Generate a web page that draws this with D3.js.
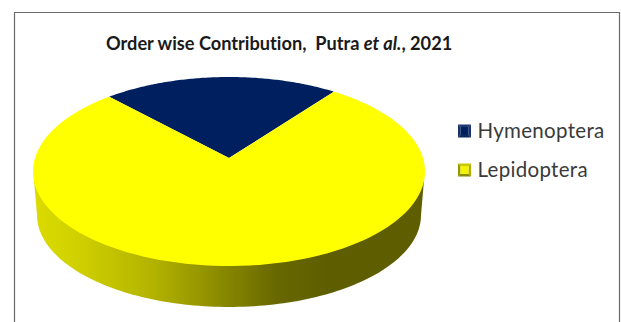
<!DOCTYPE html>
<html>
<head>
<meta charset="utf-8">
<script src="https://cdn.jsdelivr.net/npm/d3@7"></script>
<style>
  html, body { margin: 0; padding: 0; background: #fff; }
  svg { display: block; }
  text { font-family: Lato, "Open Sans", sans-serif; font-variant-ligatures: none; }
</style>
</head>
<body>
<svg id="chart" width="621" height="322"></svg>
<script>
const categories = ["Hymenoptera", "Lepidoptera"];
const values = [2, 7];
const sliceColors = ["#001f5f", "#ffff00"];

const W = 621, H = 322;
const svg = d3.select("#chart");
const defs = svg.append("defs");

// Frame open at the lower edge
svg.append("path")
  .attr("d", d3.line()([[14.5, H], [14.5, 12.5], [619.5, 12.5], [619.5, H]]))
  .attr("fill", "none").attr("stroke", "#6a6a6a").attr("stroke-width", 1.2);

// Tilted disc: the rim ellipse and the hub point that perspective pushes up
const cx = 229, cy = 171.5, rx = 196, ry = 94.5;
const hubOffset = -0.143;
const startDeg = -43;

// Projects a point of the unit disc on to the tilted top face
function project(u, v) {
  const d = 1 + hubOffset * v;
  const y = (v + hubOffset) / d;
  const x = u * Math.sqrt(1 - hubOffset * hubOffset) / d;
  return [cx + rx * x, cy + ry * y];
}

const pie = d3.pie().sort(null)
  .startAngle(startDeg * Math.PI / 180)
  .endAngle((startDeg + 360) * Math.PI / 180);
const arcs = pie(values);
const line = d3.line();

function slicePath(a) {
  const pts = [project(0, 0)];
  d3.range(0, 121).forEach(i => {
    const t = a.startAngle + (a.endAngle - a.startAngle) * i / 120;
    pts.push(project(Math.sin(t), -Math.cos(t)));
  });
  return line(pts) + "Z";
}

// Side wall, lit from the left
const wallGrad = defs.append("linearGradient").attr("id", "wall")
  .attr("gradientUnits", "userSpaceOnUse")
  .attr("x1", 33).attr("x2", 425).attr("y1", 0).attr("y2", 0);
[[0, "#dcdc00"], [0.12, "#cfcf00"], [0.3, "#b4b400"], [0.47, "#8c8c00"],
 [0.62, "#686800"], [0.75, "#5e5e00"], [1, "#5e5e00"]].forEach(s =>
  wallGrad.append("stop").attr("offset", s[0]).attr("stop-color", s[1]));

const wallTop = d3.range(0, 121).map(i => {
  const t = Math.PI * i / 120;
  return [cx - rx * Math.cos(t), cy + ry * Math.sin(t) - 3];
});
const wallBottom = d3.range(0, 121).map(i => {
  const t = Math.PI * i / 120;
  return [cx + 192 * Math.cos(t), 215 + 92 * Math.sin(t)];
});
svg.append("path")
  .attr("d", line(wallTop.concat(wallBottom)) + "Z")
  .attr("fill", "url(#wall)");

svg.append("g").selectAll("path").data(arcs).join("path")
  .attr("d", slicePath)
  .attr("fill", (d, i) => sliceColors[i]);

// Title
const title = svg.append("text")
  .attr("x", 106).attr("y", 49.5)
  .attr("font-size", 18.2).attr("font-weight", 700).attr("fill", "#1a1a1a");
title.append("tspan").text("Order wise Contribution,\u00a0 Putra ");
title.append("tspan").attr("font-style", "italic").text("et al.");
title.append("tspan").text(", 2021");

// Legend with bevelled swatches
const legendY = d3.scalePoint().domain(categories).range([131, 170]);
const bevels = [
  ["#1c3870", "#16306a", "#0e2658", "#183268", "#001f5f"],
  ["#c8c800", "#b0b000", "#8a8a00", "#969600", "#f4f400"]
];
const legend = svg.append("g").selectAll("g").data(categories).join("g")
  .attr("transform", d => `translate(458,${legendY(d)})`);
legend.each(function (d, i) {
  const g = d3.select(this), s = 6.5, n = 4;
  const c = bevels[i];
  const quad = pts => g.append("path").attr("d", line(pts) + "Z");
  quad([[0, -s], [2 * s, -s], [s + n, -n], [s - n, -n]]).attr("fill", c[0]);
  quad([[2 * s, -s], [2 * s, s], [s + n, n], [s + n, -n]]).attr("fill", c[1]);
  quad([[2 * s, s], [0, s], [s - n, n], [s + n, n]]).attr("fill", c[2]);
  quad([[0, s], [0, -s], [s - n, -n], [s - n, n]]).attr("fill", c[3]);
  g.append("rect").attr("x", s - n).attr("y", -n).attr("width", 2 * n).attr("height", 2 * n).attr("fill", c[4]);
  g.append("text").attr("x", 19.5).attr("y", 6.5)
    .attr("font-size", 20.5).attr("fill", "#3a3a3a").attr("letter-spacing", 0.3).text(d);
});
</script>
</body>
</html>
